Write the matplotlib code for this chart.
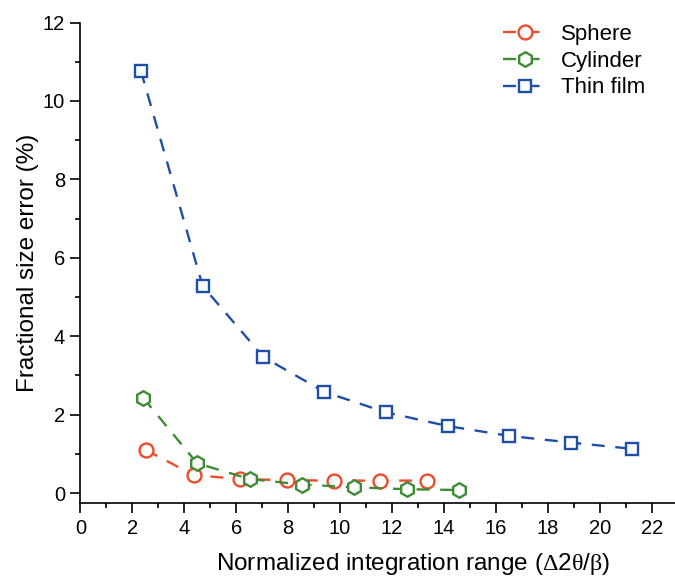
import matplotlib
matplotlib.use("Agg")
import matplotlib.pyplot as plt
from matplotlib.ticker import MultipleLocator

plt.rcParams['font.family'] = ['Liberation Sans', 'DejaVu Sans']
# 希腊字母用衬线体
plt.rcParams['mathtext.fontset'] = 'custom'
plt.rcParams['mathtext.rm'] = 'Liberation Serif'
plt.rcParams['mathtext.it'] = 'Liberation Serif:italic'

# 数据
sphere_x = [2.52, 4.37, 6.15, 7.95, 9.77, 11.54, 13.34]
sphere_y = [1.10, 0.46, 0.36, 0.33, 0.32, 0.32, 0.32]

cylinder_x = [2.42, 4.50, 6.53, 8.52, 10.54, 12.57, 14.59]
cylinder_y = [2.43, 0.76, 0.36, 0.22, 0.15, 0.10, 0.08]

film_x = [2.33, 4.71, 7.05, 9.40, 11.77, 14.15, 16.51, 18.89, 21.24]
film_y = [10.77, 5.28, 3.47, 2.58, 2.06, 1.71, 1.46, 1.29, 1.13]

xticks = list(range(0, 23, 2))
yticks = list(range(0, 13, 2))

fig = plt.figure(figsize=(6.75, 5.77), dpi=100)
ax = fig.add_axes([0.119, 0.129, 0.885, 0.832])

styles = [
    (sphere_x, sphere_y, 'Sphere', '#EE4B2B', 'o', 10),
    (cylinder_x, cylinder_y, 'Cylinder', '#3F8A35', 'h', 10.5),
    (film_x, film_y, 'Thin film', '#1F4EA8', 's', 8),
]
for x, y, name, c, m, ms in styles:
    ax.plot(x, y, linestyle=(0, (5.5, 4.5)), lw=1.7, color=c,
            marker=m, markersize=ms, markerfacecolor='white',
            markeredgecolor=c, markeredgewidth=1.7, label=name)

ax.set_xlim(0, 23)
ax.set_ylim(-0.24, 12)
ax.set_xticks(xticks)
ax.set_yticks(yticks)
ax.xaxis.set_minor_locator(MultipleLocator(1))
ax.yaxis.set_minor_locator(MultipleLocator(1))
ax.tick_params(which='major', direction='out', length=7, width=1.2, labelsize=14.5)
ax.tick_params(which='minor', direction='out', length=3.6, width=1.2)
ax.tick_params(axis='x', pad=5)
ax.tick_params(axis='y', pad=4)

for s in ['top', 'right']:
    ax.spines[s].set_visible(False)
for s in ['left', 'bottom']:
    ax.spines[s].set_linewidth(1.2)

ax.set_xlabel(r'Normalized integration range ($\mathrm{\Delta}$2$\mathrm{\theta}$/$\mathrm{\beta}$)',
              fontsize=17.5)
ax.xaxis.set_label_coords(0.558, -0.1)
ax.set_ylabel('Fractional size error (%)', fontsize=17.5, labelpad=3)

leg = ax.legend(loc='upper left', bbox_to_anchor=(0.674, 1.038), frameon=False,
                fontsize=16, handlelength=2.0, handletextpad=0.6, labelspacing=0.25)

fig.savefig('out.png', dpi=100)
